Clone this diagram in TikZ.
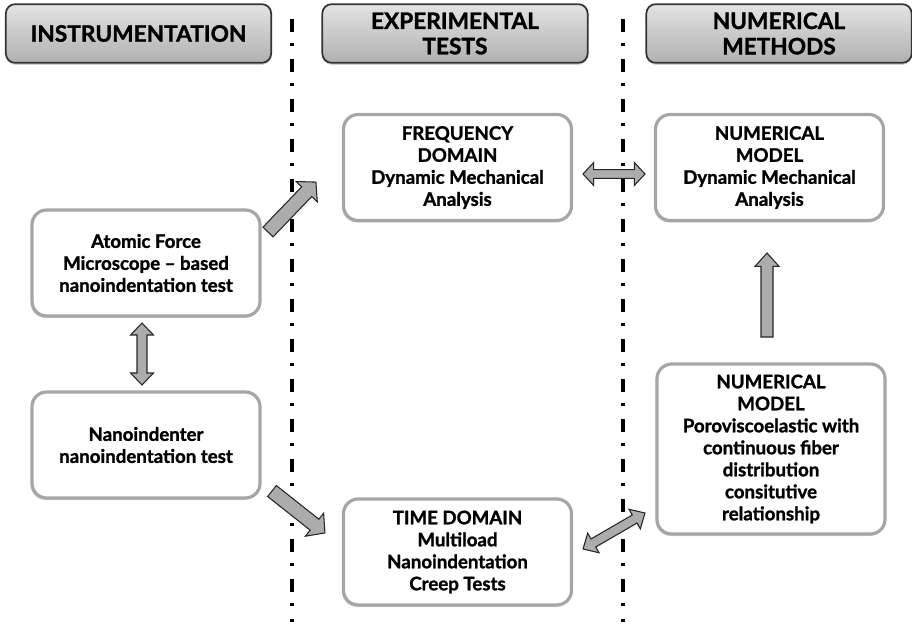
\documentclass[tikz,border=0pt]{standalone}
\usepackage{fontspec}
\setmainfont{Lato}[BoldFeatures={FakeBold=1.3}]
\usetikzlibrary{calc,shadows}
\tikzset{
  hdr/.style={rounded corners=7pt, draw=black!80, line width=1.3pt,
    top color=gray!22, bottom color=gray!62, minimum width=199pt, minimum height=44pt,
    align=center, font=\bfseries\fontsize{17}{19}\selectfont,
    drop shadow={shadow xshift=0pt, shadow yshift=-1.5pt, opacity=0.35}},
  box/.style={rounded corners=11pt, draw=gray!70, line width=2.4pt, fill=white,
    minimum width=171pt, minimum height=79.5pt, align=center,
    font=\bfseries\fontsize{14}{16.5}\selectfont,
    drop shadow={shadow xshift=-1pt, shadow yshift=-1.5pt, opacity=0.3}},
  sep/.style={line width=2.4pt, dash pattern=on 10pt off 8pt on 2pt off 10pt},
  barrow/.style={fill=gray!65, draw=black!85, line width=0.8pt, line join=miter},
}
% #1 half shaft, #2 half head, #3 head length, #4 from, #5 to
\newcommand\blkarrow[5]{%
  \draw[barrow] let \p1=($(#5)-(#4)$), \n1={atan2(\y1,\x1)}, \n2={veclen(\x1,\y1)} in
    [shift={(#4)}, rotate=\n1]
    (0pt,#1) -- ({\n2-#3},#1) -- ({\n2-#3},#2) -- (\n2,0pt) -- ({\n2-#3},-#2)
    -- ({\n2-#3},-#1) -- (0pt,-#1) -- cycle;}
\newcommand\dblarrow[5]{%
  \draw[barrow] let \p1=($(#5)-(#4)$), \n1={atan2(\y1,\x1)}, \n2={veclen(\x1,\y1)} in
    [shift={(#4)}, rotate=\n1]
    (0pt,0pt) -- (#3,#2) -- (#3,#1) -- ({\n2-#3},#1) -- ({\n2-#3},#2) -- (\n2,0pt)
    -- ({\n2-#3},-#2) -- ({\n2-#3},-#1) -- (#3,-#1) -- (#3,-#2) -- cycle;}
\begin{document}
\begin{tikzpicture}[x=0.75pt, y=-0.75pt]
\useasboundingbox (0,0) rectangle (912,625);
% separators
\coordinate (s1t) at (292,19); \coordinate (s1b) at (292,622);
\coordinate (s2t) at (623,19); \coordinate (s2b) at (623,622);
\draw[sep] (s1t) -- (s1b);
\draw[sep] (s2t) -- (s2b);
% headers
\node[hdr] (h1) at (138.5,33.5) {INSTRUMENTATION};
\node[hdr] (h2) at (455,33.5) {EXPERIMENTAL\\TESTS};
\node[hdr] (h3) at (779,33.5) {NUMERICAL\\METHODS};
% boxes
\node[box] (freq) at (457.5,167.5) {FREQUENCY\\DOMAIN\\Dynamic Mechanical\\Analysis};
\node[box] (nm1) at (769.5,167.5) {NUMERICAL\\MODEL\\Dynamic Mechanical\\Analysis};
\node[box] (afm) at (146,263) {Atomic Force\\Microscope -- based\\nanoindentation test};
\node[box] (nano) at (146,445) {Nanoindenter\\nanoindentation test};
\node[box] (time) at (457.5,552) {TIME DOMAIN\\Multiload\\Nanoindentation\\Creep Tests};
\node[box, minimum height=127.5pt] (poro) at (771,449) {NUMERICAL\\MODEL\\Poroviscoelastic with\\continuous fiber\\distribution\\consitutive\\relationship};
% arrow ends
\coordinate (a1s) at (268,232); \coordinate (a1e) at (316,182);
\coordinate (a2s) at (583,174); \coordinate (a2e) at (645,174);
\coordinate (a3s) at (142,323); \coordinate (a3e) at (142,385);
\coordinate (a4s) at (272,491); \coordinate (a4e) at (325,533);
\coordinate (a5s) at (583,549); \coordinate (a5e) at (645,513);
\coordinate (a6s) at (767,337); \coordinate (a6e) at (767,253);
\blkarrow{5.25pt}{11pt}{10pt}{a1s}{a1e}
\dblarrow{3.3pt}{8.6pt}{8pt}{a2s}{a2e}
\dblarrow{3.75pt}{8.6pt}{9pt}{a3s}{a3e}
\blkarrow{5.25pt}{11pt}{10pt}{a4s}{a4e}
\dblarrow{3.5pt}{8.5pt}{9pt}{a5s}{a5e}
\blkarrow{4.5pt}{9pt}{10pt}{a6s}{a6e}
\end{tikzpicture}
\end{document}
